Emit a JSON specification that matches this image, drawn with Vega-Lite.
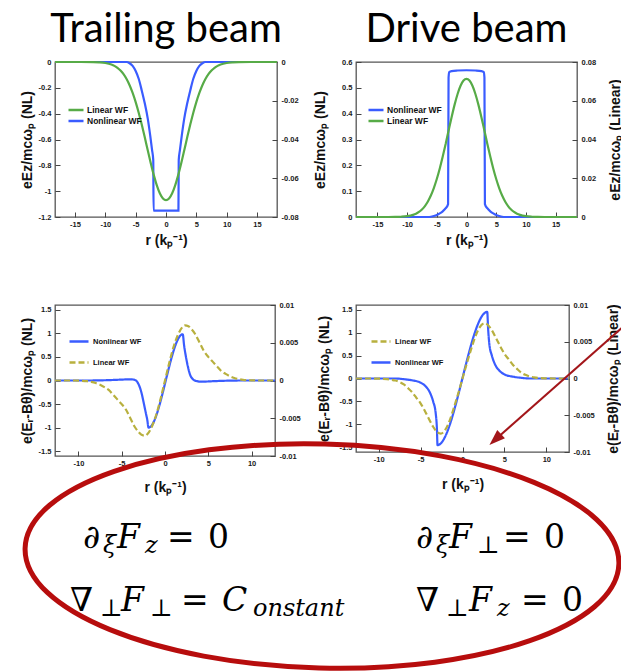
{
"$schema": "https://vega.github.io/schema/vega-lite/v6.json",
"background": "white",
"padding": {"left": 15, "top": 8, "right": 0, "bottom": 0},
"datasets": {
"tl": [
{"s":"Nonlinear WF","r":-18.3,"v":0},{"s":"Nonlinear WF","r":-8,"v":0},{"s":"Nonlinear WF","r":-6.5,"v":0},{"s":"Nonlinear WF","r":-6,"v":-0.01},{"s":"Nonlinear WF","r":-5.5,"v":-0.03},{"s":"Nonlinear WF","r":-5,"v":-0.07},{"s":"Nonlinear WF","r":-4.5,"v":-0.13},{"s":"Nonlinear WF","r":-4,"v":-0.22},{"s":"Nonlinear WF","r":-3.5,"v":-0.32},{"s":"Nonlinear WF","r":-3,"v":-0.44},{"s":"Nonlinear WF","r":-2.6,"v":-0.57},{"s":"Nonlinear WF","r":-2.3,"v":-0.68},{"s":"Nonlinear WF","r":-2.1,"v":-0.76},{"s":"Nonlinear WF","r":-2.05,"v":-1.15},{"s":"Nonlinear WF","r":2.05,"v":-1.15},{"s":"Nonlinear WF","r":2.1,"v":-0.76},{"s":"Nonlinear WF","r":2.3,"v":-0.68},{"s":"Nonlinear WF","r":2.6,"v":-0.57},{"s":"Nonlinear WF","r":3,"v":-0.44},{"s":"Nonlinear WF","r":3.5,"v":-0.32},{"s":"Nonlinear WF","r":4,"v":-0.22},{"s":"Nonlinear WF","r":4.5,"v":-0.13},{"s":"Nonlinear WF","r":5,"v":-0.07},{"s":"Nonlinear WF","r":5.5,"v":-0.03},{"s":"Nonlinear WF","r":6,"v":-0.01},{"s":"Nonlinear WF","r":6.5,"v":0},{"s":"Nonlinear WF","r":8,"v":0},{"s":"Nonlinear WF","r":18.3,"v":0},
{"s":"Linear WF","r":-18.3,"v":0},{"s":"Linear WF","r":-14,"v":0},{"s":"Linear WF","r":-12,"v":-0.00006},{"s":"Linear WF","r":-11,"v":-0.00018},{"s":"Linear WF","r":-10,"v":-0.0005},{"s":"Linear WF","r":-9,"v":-0.00129},{"s":"Linear WF","r":-8.5,"v":-0.00199},{"s":"Linear WF","r":-8,"v":-0.003},{"s":"Linear WF","r":-7.5,"v":-0.0044},{"s":"Linear WF","r":-7,"v":-0.0063},{"s":"Linear WF","r":-6.5,"v":-0.00881},{"s":"Linear WF","r":-6,"v":-0.012},{"s":"Linear WF","r":-5.5,"v":-0.01595},{"s":"Linear WF","r":-5,"v":-0.02068},{"s":"Linear WF","r":-4.5,"v":-0.02616},{"s":"Linear WF","r":-4,"v":-0.03229},{"s":"Linear WF","r":-3.5,"v":-0.03888},{"s":"Linear WF","r":-3,"v":-0.04567},{"s":"Linear WF","r":-2.5,"v":-0.05233},{"s":"Linear WF","r":-2,"v":-0.0585},{"s":"Linear WF","r":-1.5,"v":-0.06378},{"s":"Linear WF","r":-1,"v":-0.06786},{"s":"Linear WF","r":-0.5,"v":-0.07042},{"s":"Linear WF","r":0,"v":-0.0713},{"s":"Linear WF","r":0.5,"v":-0.07042},{"s":"Linear WF","r":1,"v":-0.06786},{"s":"Linear WF","r":1.5,"v":-0.06378},{"s":"Linear WF","r":2,"v":-0.0585},{"s":"Linear WF","r":2.5,"v":-0.05233},{"s":"Linear WF","r":3,"v":-0.04567},{"s":"Linear WF","r":3.5,"v":-0.03888},{"s":"Linear WF","r":4,"v":-0.03229},{"s":"Linear WF","r":4.5,"v":-0.02616},{"s":"Linear WF","r":5,"v":-0.02068},{"s":"Linear WF","r":5.5,"v":-0.01595},{"s":"Linear WF","r":6,"v":-0.012},{"s":"Linear WF","r":6.5,"v":-0.00881},{"s":"Linear WF","r":7,"v":-0.0063},{"s":"Linear WF","r":7.5,"v":-0.0044},{"s":"Linear WF","r":8,"v":-0.003},{"s":"Linear WF","r":8.5,"v":-0.00199},{"s":"Linear WF","r":9,"v":-0.00129},{"s":"Linear WF","r":10,"v":-0.0005},{"s":"Linear WF","r":11,"v":-0.00018},{"s":"Linear WF","r":12,"v":-0.00006},{"s":"Linear WF","r":14,"v":0},{"s":"Linear WF","r":18.3,"v":0}
],
"tr": [
{"s":"Nonlinear WF","r":-18.6,"v":0},{"s":"Nonlinear WF","r":-8,"v":0},{"s":"Nonlinear WF","r":-6.5,"v":0},{"s":"Nonlinear WF","r":-6,"v":0.001},{"s":"Nonlinear WF","r":-5.5,"v":0.004},{"s":"Nonlinear WF","r":-5,"v":0.008},{"s":"Nonlinear WF","r":-4.5,"v":0.014},{"s":"Nonlinear WF","r":-4,"v":0.022},{"s":"Nonlinear WF","r":-3.5,"v":0.034},{"s":"Nonlinear WF","r":-3.1,"v":0.05},{"s":"Nonlinear WF","r":-3.02,"v":0.54},{"s":"Nonlinear WF","r":-2.9,"v":0.561},{"s":"Nonlinear WF","r":-2.5,"v":0.565},{"s":"Nonlinear WF","r":-1.5,"v":0.567},{"s":"Nonlinear WF","r":0,"v":0.568},{"s":"Nonlinear WF","r":1.5,"v":0.567},{"s":"Nonlinear WF","r":2.5,"v":0.565},{"s":"Nonlinear WF","r":2.9,"v":0.561},{"s":"Nonlinear WF","r":3.02,"v":0.54},{"s":"Nonlinear WF","r":3.1,"v":0.05},{"s":"Nonlinear WF","r":3.5,"v":0.034},{"s":"Nonlinear WF","r":4,"v":0.022},{"s":"Nonlinear WF","r":4.5,"v":0.014},{"s":"Nonlinear WF","r":5,"v":0.008},{"s":"Nonlinear WF","r":5.5,"v":0.004},{"s":"Nonlinear WF","r":6,"v":0.001},{"s":"Nonlinear WF","r":6.5,"v":0},{"s":"Nonlinear WF","r":8,"v":0},{"s":"Nonlinear WF","r":18.6,"v":0},
{"s":"Linear WF","r":-18.6,"v":0},{"s":"Linear WF","r":-14,"v":0},{"s":"Linear WF","r":-12,"v":0.00004},{"s":"Linear WF","r":-11,"v":0.00014},{"s":"Linear WF","r":-10,"v":0.00041},{"s":"Linear WF","r":-9,"v":0.00108},{"s":"Linear WF","r":-8.5,"v":0.0017},{"s":"Linear WF","r":-8,"v":0.00261},{"s":"Linear WF","r":-7.5,"v":0.00389},{"s":"Linear WF","r":-7,"v":0.00566},{"s":"Linear WF","r":-6.5,"v":0.00803},{"s":"Linear WF","r":-6,"v":0.01109},{"s":"Linear WF","r":-5.5,"v":0.01493},{"s":"Linear WF","r":-5,"v":0.01959},{"s":"Linear WF","r":-4.5,"v":0.02504},{"s":"Linear WF","r":-4,"v":0.03119},{"s":"Linear WF","r":-3.5,"v":0.03786},{"s":"Linear WF","r":-3,"v":0.04479},{"s":"Linear WF","r":-2.5,"v":0.05163},{"s":"Linear WF","r":-2,"v":0.05801},{"s":"Linear WF","r":-1.5,"v":0.0635},{"s":"Linear WF","r":-1,"v":0.06773},{"s":"Linear WF","r":-0.5,"v":0.07041},{"s":"Linear WF","r":0,"v":0.07133},{"s":"Linear WF","r":0.5,"v":0.07041},{"s":"Linear WF","r":1,"v":0.06773},{"s":"Linear WF","r":1.5,"v":0.0635},{"s":"Linear WF","r":2,"v":0.05801},{"s":"Linear WF","r":2.5,"v":0.05163},{"s":"Linear WF","r":3,"v":0.04479},{"s":"Linear WF","r":3.5,"v":0.03786},{"s":"Linear WF","r":4,"v":0.03119},{"s":"Linear WF","r":4.5,"v":0.02504},{"s":"Linear WF","r":5,"v":0.01959},{"s":"Linear WF","r":5.5,"v":0.01493},{"s":"Linear WF","r":6,"v":0.01109},{"s":"Linear WF","r":6.5,"v":0.00803},{"s":"Linear WF","r":7,"v":0.00566},{"s":"Linear WF","r":7.5,"v":0.00389},{"s":"Linear WF","r":8,"v":0.00261},{"s":"Linear WF","r":8.5,"v":0.0017},{"s":"Linear WF","r":9,"v":0.00108},{"s":"Linear WF","r":10,"v":0.00041},{"s":"Linear WF","r":11,"v":0.00014},{"s":"Linear WF","r":12,"v":0.00004},{"s":"Linear WF","r":14,"v":0},{"s":"Linear WF","r":18.6,"v":0}
],
"bl": [
{"s":"Nonlinear WF","r":-12.7,"v":0},{"s":"Nonlinear WF","r":-9,"v":0},{"s":"Nonlinear WF","r":-7,"v":0.005},{"s":"Nonlinear WF","r":-5.5,"v":0.015},{"s":"Nonlinear WF","r":-4.5,"v":0.022},{"s":"Nonlinear WF","r":-3.8,"v":0.022},{"s":"Nonlinear WF","r":-3.4,"v":0.005},{"s":"Nonlinear WF","r":-3,"v":-0.1},{"s":"Nonlinear WF","r":-2.7,"v":-0.27},{"s":"Nonlinear WF","r":-2.45,"v":-0.48},{"s":"Nonlinear WF","r":-2.2,"v":-0.7},{"s":"Nonlinear WF","r":-2.05,"v":-0.83},{"s":"Nonlinear WF","r":-1.9,"v":-1},{"s":"Nonlinear WF","r":2.05,"v":0.98},{"s":"Nonlinear WF","r":2.2,"v":0.75},{"s":"Nonlinear WF","r":2.4,"v":0.52},{"s":"Nonlinear WF","r":2.6,"v":0.33},{"s":"Nonlinear WF","r":2.9,"v":0.12},{"s":"Nonlinear WF","r":3.2,"v":0.03},{"s":"Nonlinear WF","r":3.6,"v":-0.01},{"s":"Nonlinear WF","r":4.2,"v":-0.025},{"s":"Nonlinear WF","r":5.5,"v":-0.015},{"s":"Nonlinear WF","r":7,"v":-0.005},{"s":"Nonlinear WF","r":9,"v":0},{"s":"Nonlinear WF","r":12.7,"v":0},
{"s":"Linear WF","r":-12.7,"v":0},{"s":"Linear WF","r":-11,"v":0},{"s":"Linear WF","r":-10,"v":-0.00002},{"s":"Linear WF","r":-9,"v":-0.00009},{"s":"Linear WF","r":-8.5,"v":-0.00019},{"s":"Linear WF","r":-8,"v":-0.00034},{"s":"Linear WF","r":-7.5,"v":-0.00056},{"s":"Linear WF","r":-7,"v":-0.00088},{"s":"Linear WF","r":-6.5,"v":-0.00125},{"s":"Linear WF","r":-6,"v":-0.00188},{"s":"Linear WF","r":-5.5,"v":-0.0025},{"s":"Linear WF","r":-5,"v":-0.00313},{"s":"Linear WF","r":-4.5,"v":-0.00388},{"s":"Linear WF","r":-4,"v":-0.005},{"s":"Linear WF","r":-3.5,"v":-0.00613},{"s":"Linear WF","r":-3,"v":-0.00688},{"s":"Linear WF","r":-2.7,"v":-0.00719},{"s":"Linear WF","r":-2.3,"v":-0.00731},{"s":"Linear WF","r":-2,"v":-0.00706},{"s":"Linear WF","r":-1.5,"v":-0.00606},{"s":"Linear WF","r":-1,"v":-0.0045},{"s":"Linear WF","r":-0.5,"v":-0.00238},{"s":"Linear WF","r":0,"v":0},{"s":"Linear WF","r":0.5,"v":0.00238},{"s":"Linear WF","r":1,"v":0.0045},{"s":"Linear WF","r":1.5,"v":0.00606},{"s":"Linear WF","r":2,"v":0.00706},{"s":"Linear WF","r":2.3,"v":0.00731},{"s":"Linear WF","r":2.7,"v":0.00719},{"s":"Linear WF","r":3,"v":0.00688},{"s":"Linear WF","r":3.5,"v":0.00613},{"s":"Linear WF","r":4,"v":0.005},{"s":"Linear WF","r":4.5,"v":0.00388},{"s":"Linear WF","r":5,"v":0.00313},{"s":"Linear WF","r":5.5,"v":0.0025},{"s":"Linear WF","r":6,"v":0.00188},{"s":"Linear WF","r":6.5,"v":0.00125},{"s":"Linear WF","r":7,"v":0.00088},{"s":"Linear WF","r":7.5,"v":0.00056},{"s":"Linear WF","r":8,"v":0.00034},{"s":"Linear WF","r":8.5,"v":0.00019},{"s":"Linear WF","r":9,"v":0.00009},{"s":"Linear WF","r":10,"v":0.00002},{"s":"Linear WF","r":11,"v":0},{"s":"Linear WF","r":12.7,"v":0}
],
"br": [
{"s":"Nonlinear WF","r":-12.7,"v":0},{"s":"Nonlinear WF","r":-8,"v":0},{"s":"Nonlinear WF","r":-7,"v":-0.015},{"s":"Nonlinear WF","r":-6,"v":-0.04},{"s":"Nonlinear WF","r":-5,"v":-0.09},{"s":"Nonlinear WF","r":-4.4,"v":-0.17},{"s":"Nonlinear WF","r":-3.9,"v":-0.3},{"s":"Nonlinear WF","r":-3.5,"v":-0.5},{"s":"Nonlinear WF","r":-3.2,"v":-0.75},{"s":"Nonlinear WF","r":-3.05,"v":-1.1},{"s":"Nonlinear WF","r":-2.98,"v":-1.45},{"s":"Nonlinear WF","r":2.95,"v":1.45},{"s":"Nonlinear WF","r":3.05,"v":1.1},{"s":"Nonlinear WF","r":3.2,"v":0.75},{"s":"Nonlinear WF","r":3.5,"v":0.5},{"s":"Nonlinear WF","r":3.9,"v":0.3},{"s":"Nonlinear WF","r":4.4,"v":0.17},{"s":"Nonlinear WF","r":5,"v":0.09},{"s":"Nonlinear WF","r":6,"v":0.04},{"s":"Nonlinear WF","r":7,"v":0.015},{"s":"Nonlinear WF","r":8,"v":0},{"s":"Nonlinear WF","r":12.7,"v":0},
{"s":"Linear WF","r":-12.7,"v":0},{"s":"Linear WF","r":-11,"v":0},{"s":"Linear WF","r":-10,"v":-0.00002},{"s":"Linear WF","r":-9,"v":-0.000075},{"s":"Linear WF","r":-8.5,"v":-0.00016},{"s":"Linear WF","r":-8,"v":-0.00028},{"s":"Linear WF","r":-7.5,"v":-0.0005},{"s":"Linear WF","r":-7,"v":-0.00081},{"s":"Linear WF","r":-6.5,"v":-0.00131},{"s":"Linear WF","r":-6,"v":-0.001875},{"s":"Linear WF","r":-5.5,"v":-0.002625},{"s":"Linear WF","r":-5,"v":-0.003375},{"s":"Linear WF","r":-4.5,"v":-0.004375},{"s":"Linear WF","r":-4,"v":-0.0055},{"s":"Linear WF","r":-3.5,"v":-0.00656},{"s":"Linear WF","r":-3,"v":-0.00731},{"s":"Linear WF","r":-2.6,"v":-0.0075},{"s":"Linear WF","r":-2,"v":-0.006875},{"s":"Linear WF","r":-1.5,"v":-0.005625},{"s":"Linear WF","r":-1,"v":-0.003875},{"s":"Linear WF","r":-0.5,"v":-0.002},{"s":"Linear WF","r":0,"v":0},{"s":"Linear WF","r":0.5,"v":0.002},{"s":"Linear WF","r":1,"v":0.003875},{"s":"Linear WF","r":1.5,"v":0.005625},{"s":"Linear WF","r":2,"v":0.006875},{"s":"Linear WF","r":2.6,"v":0.0075},{"s":"Linear WF","r":3,"v":0.00731},{"s":"Linear WF","r":3.5,"v":0.00656},{"s":"Linear WF","r":4,"v":0.0055},{"s":"Linear WF","r":4.5,"v":0.004375},{"s":"Linear WF","r":5,"v":0.003375},{"s":"Linear WF","r":5.5,"v":0.002625},{"s":"Linear WF","r":6,"v":0.001875},{"s":"Linear WF","r":6.5,"v":0.00131},{"s":"Linear WF","r":7,"v":0.00081},{"s":"Linear WF","r":7.5,"v":0.0005},{"s":"Linear WF","r":8,"v":0.00028},{"s":"Linear WF","r":8.5,"v":0.00016},{"s":"Linear WF","r":9,"v":0.000075},{"s":"Linear WF","r":10,"v":0.00002},{"s":"Linear WF","r":11,"v":0},{"s":"Linear WF","r":12.7,"v":0}
],
"arrow": [{"r":19.6,"v":0.0075,"r2":4.03,"v2":-0.00819}],
"ell": [{"x":322,"y":556}],
"eq": [
{"t":"∂","k":"m","x":83,"y":548},{"t":"ξ","k":"si","x":103,"y":553},{"t":"F","k":"mi","x":117,"y":548},{"t":"z","k":"si","x":145,"y":553},{"t":"=","k":"m","x":167,"y":548},{"t":"0","k":"m","x":208,"y":548},
{"t":"∇","k":"m","x":70,"y":611},{"t":"⊥","k":"s","x":100,"y":616},{"t":"F","k":"mi","x":121,"y":611},{"t":"⊥","k":"s","x":150,"y":616},{"t":"=","k":"m","x":181,"y":611},{"t":"C","k":"mi","x":222,"y":611},{"t":"onstant","k":"si","x":253,"y":616},
{"t":"∂","k":"m","x":416,"y":548},{"t":"ξ","k":"si","x":436,"y":553},{"t":"F","k":"mi","x":449,"y":548},{"t":"⊥","k":"s","x":477,"y":553},{"t":"=","k":"m","x":503,"y":548},{"t":"0","k":"m","x":544,"y":548},
{"t":"∇","k":"m","x":416,"y":611},{"t":"⊥","k":"s","x":446,"y":616},{"t":"F","k":"mi","x":469,"y":611},{"t":"z","k":"si","x":497,"y":616},{"t":"=","k":"m","x":521,"y":611},{"t":"0","k":"m","x":562,"y":611}
]
},
"config": {
"view": {"stroke": "#555", "strokeWidth": 1.3},
"axis": {"domain": false, "grid": false, "ticks": true, "tickSize": -5, "tickColor": "#444", "tickWidth": 1, "labelFont": "Liberation Sans", "labelFontWeight": "bold", "labelFontSize": 7.5, "labelColor": "#1a1a1a", "labelFlush": false, "labelOverlap": false, "labelBound": false, "titleFont": "Liberation Sans", "titleFontWeight": "bold", "titleFontSize": 14, "titleColor": "#111", "labelExpr": "replace(format(datum.value, '~g'), '−', '-')"},
"axisBottom": {"labelPadding": 8, "titleBaseline": "middle", "titleY": 23, "labelOverlap": false},
"axisX": {"labelOverlap": false},
"axisLeft": {"labelPadding": 9, "titleAngle": 270, "titleBaseline": "middle"},
"axisRight": {"labelPadding": 9, "titleAngle": 270, "titleBaseline": "middle"},
"legend": {"symbolType": "stroke", "symbolStrokeWidth": 2.5, "labelFont": "Liberation Sans", "labelFontWeight": "bold", "labelColor": "#111", "padding": 0, "labelOffset": 2},
"title": {"font": "Lato", "fontSize": 40, "fontWeight": "normal", "color": "#000", "anchor": "middle", "baseline": "alphabetic", "offset": 8, "frame": "group"}
},
"bounds": "flush",
"columns": 2,
"spacing": {"row": 88, "column": 79},
"resolve": {"scale": {"color": "independent", "strokeDash": "independent"}},
"concat": [
{
"width": 222, "height": 155,
"title": {"text": "Trailing beam"},
"data": {"name": "tl"},
"layer": [
{"transform": [{"filter": "datum.s === 'Nonlinear WF'"}],
 "mark": {"type": "line", "interpolate": "monotone", "strokeWidth": 2.2},
 "encoding": {
  "x": {"field": "r", "type": "quantitative", "scale": {"domain": [-18.3, 18.3], "nice": false, "zero": false}, "axis": {"values": [-15,-10,-5,0,5,10,15], "labelOverlap": false, "title": "r (kₚ⁻¹)"}},
  "y": {"field": "v", "type": "quantitative", "scale": {"domain": [-1.2, 0], "nice": false, "zero": false}, "axis": {"values": [0,-0.2,-0.4,-0.6,-0.8,-1,-1.2], "labelOverlap": false, "title": "eEz/mcωₚ (NL)", "titleX": -28}},
  "color": {"field": "s", "type": "nominal", "scale": {"domain": ["Linear WF","Nonlinear WF"], "range": ["#57ab47","#3a5cff"]}, "legend": {"title": null, "orient": "none", "legendX": 12, "legendY": 42.5, "symbolSize": 225, "clipHeight": 11, "labelFontSize": 8.5, "rowPadding": 0}}
 }},
{"transform": [{"filter": "datum.s === 'Linear WF'"}],
 "mark": {"type": "line", "interpolate": "monotone", "strokeWidth": 2.2},
 "encoding": {
  "x": {"field": "r", "type": "quantitative", "scale": {"domain": [-18.3, 18.3], "nice": false, "zero": false}, "axis": {"values": [-15,-10,-5,0,5,10,15], "labelOverlap": false, "title": "r (kₚ⁻¹)"}},
  "y": {"field": "v", "type": "quantitative", "scale": {"domain": [-0.08, 0], "nice": false, "zero": false}, "axis": {"orient": "right", "values": [0,-0.02,-0.04,-0.06,-0.08], "labelOverlap": false, "title": null}},
  "color": {"field": "s", "type": "nominal"}
 }}
],
"resolve": {"scale": {"y": "independent"}}
},
{
"width": 221, "height": 155,
"title": {"text": "Drive beam"},
"data": {"name": "tr"},
"layer": [
{"transform": [{"filter": "datum.s === 'Nonlinear WF'"}],
 "mark": {"type": "line", "interpolate": "monotone", "strokeWidth": 2.2},
 "encoding": {
  "x": {"field": "r", "type": "quantitative", "scale": {"domain": [-18.6, 18.6], "nice": false, "zero": false}, "axis": {"values": [-15,-10,-5,0,5,10,15], "labelOverlap": false, "title": "r (kₚ⁻¹)"}},
  "y": {"field": "v", "type": "quantitative", "scale": {"domain": [0, 0.6], "nice": false, "zero": false}, "axis": {"values": [0,0.1,0.2,0.3,0.4,0.5,0.6], "labelOverlap": false, "title": "eEz/mcωₚ (NL)", "titleX": -36}},
  "color": {"field": "s", "type": "nominal", "scale": {"domain": ["Nonlinear WF","Linear WF"], "range": ["#3a5cff","#57ab47"]}, "legend": {"title": null, "orient": "none", "legendX": 11, "legendY": 42.5, "symbolSize": 225, "clipHeight": 11, "labelFontSize": 8.5, "rowPadding": 0}}
 }},
{"transform": [{"filter": "datum.s === 'Linear WF'"}],
 "mark": {"type": "line", "interpolate": "monotone", "strokeWidth": 2.2},
 "encoding": {
  "x": {"field": "r", "type": "quantitative", "scale": {"domain": [-18.6, 18.6], "nice": false, "zero": false}, "axis": {"values": [-15,-10,-5,0,5,10,15], "labelOverlap": false, "title": "r (kₚ⁻¹)"}},
  "y": {"field": "v", "type": "quantitative", "scale": {"domain": [0, 0.08], "nice": false, "zero": false}, "axis": {"orient": "right", "values": [0,0.02,0.04,0.06,0.08], "labelOverlap": false, "title": "eEz/mcωₚ (Linear)", "titleX": 38}},
  "color": {"field": "s", "type": "nominal"}
 }}
],
"resolve": {"scale": {"y": "independent"}}
},
{
"width": 220, "height": 151,
"data": {"name": "bl"},
"layer": [
{"transform": [{"filter": "datum.s === 'Nonlinear WF'"}],
 "mark": {"type": "line", "interpolate": "monotone", "strokeWidth": 2.2},
 "encoding": {
  "x": {"field": "r", "type": "quantitative", "scale": {"domain": [-12.7, 12.7], "nice": false, "zero": false}, "axis": {"values": [-10,-5,0,5,10], "labelOverlap": false, "title": "r (kₚ⁻¹)", "titleY": 31}},
  "y": {"field": "v", "type": "quantitative", "scale": {"domain": [-1.6, 1.6], "nice": false, "zero": false}, "axis": {"values": [-1.5,-1,-0.5,0,0.5,1,1.5], "labelOverlap": false, "title": "e(Eᵣ-Bθ)/mcωₚ (NL)", "titleX": -28}},
  "color": {"field": "s", "type": "nominal", "scale": {"domain": ["Nonlinear WF","Linear WF"], "range": ["#3a5cff","#b8b03e"]}, "legend": {"title": null, "orient": "none", "legendX": 13, "legendY": 28, "symbolSize": 361, "clipHeight": 17, "labelFontSize": 7.5, "rowPadding": 4, "labelOffset": 3}},
  "strokeDash": {"field": "s", "type": "nominal", "scale": {"domain": ["Nonlinear WF","Linear WF"], "range": [[1,0],[6,3]]}, "legend": {"title": null, "orient": "none", "legendX": 13, "legendY": 28, "symbolSize": 361, "clipHeight": 17, "labelFontSize": 7.5, "rowPadding": 4, "labelOffset": 3}}
 }},
{"transform": [{"filter": "datum.s === 'Linear WF'"}],
 "mark": {"type": "line", "interpolate": "monotone", "strokeWidth": 2.2},
 "encoding": {
  "x": {"field": "r", "type": "quantitative", "scale": {"domain": [-12.7, 12.7], "nice": false, "zero": false}},
  "y": {"field": "v", "type": "quantitative", "scale": {"domain": [-0.01, 0.01], "nice": false, "zero": false}, "axis": {"orient": "right", "values": [-0.01,-0.005,0,0.005,0.01], "labelOverlap": false, "title": null}},
  "color": {"field": "s", "type": "nominal"},
  "strokeDash": {"field": "s", "type": "nominal"}
 }}
],
"resolve": {"scale": {"y": "independent"}}
},
{
"width": 213, "height": 147,
"layer": [
{"data": {"name": "br"},
 "transform": [{"filter": "datum.s === 'Nonlinear WF'"}],
 "mark": {"type": "line", "interpolate": "monotone", "strokeWidth": 2.2},
 "encoding": {
  "x": {"field": "r", "type": "quantitative", "scale": {"domain": [-12.7, 12.7], "nice": false, "zero": false}, "axis": {"values": [-10,-5,0,5,10], "labelOverlap": false, "title": "r (kₚ⁻¹)", "titleY": 32}},
  "y": {"field": "v", "type": "quantitative", "scale": {"domain": [-1.6, 1.6], "nice": false, "zero": false}, "axis": {"values": [-1.5,-1,-0.5,0,0.5,1,1.5], "labelOverlap": false, "title": "e(Eᵣ-Bθ)/mcωₚ (NL)", "titleX": -32}},
  "color": {"field": "s", "type": "nominal", "scale": {"domain": ["Linear WF","Nonlinear WF"], "range": ["#b8b03e","#3a5cff"]}, "legend": {"title": null, "orient": "none", "legendX": 14, "legendY": 28, "symbolSize": 361, "clipHeight": 17, "labelFontSize": 7.5, "rowPadding": 4, "labelOffset": 3}},
  "strokeDash": {"field": "s", "type": "nominal", "scale": {"domain": ["Linear WF","Nonlinear WF"], "range": [[6,3],[1,0]]}, "legend": {"title": null, "orient": "none", "legendX": 14, "legendY": 28, "symbolSize": 361, "clipHeight": 17, "labelFontSize": 7.5, "rowPadding": 4, "labelOffset": 3}}
 }},
{"layer": [
 {"data": {"name": "br"},
  "transform": [{"filter": "datum.s === 'Linear WF'"}],
  "mark": {"type": "line", "interpolate": "monotone", "strokeWidth": 2.2},
  "encoding": {
   "x": {"field": "r", "type": "quantitative", "scale": {"domain": [-12.7, 12.7], "nice": false, "zero": false}},
   "y": {"field": "v", "type": "quantitative", "scale": {"domain": [-0.01, 0.01], "nice": false, "zero": false}, "axis": {"orient": "right", "values": [-0.01,-0.005,0,0.005,0.01], "labelOverlap": false, "title": "e(Eᵣ-Bθ)/mcωₚ (Linear)", "titleX": 44}},
   "color": {"field": "s", "type": "nominal"},
   "strokeDash": {"field": "s", "type": "nominal"}
  }},
 {"data": {"name": "arrow"},
  "mark": {"type": "rule", "color": "#a3161a", "strokeWidth": 2},
  "encoding": {
   "x": {"field": "r", "type": "quantitative", "scale": {"domain": [-12.7, 12.7], "nice": false, "zero": false}},
   "x2": {"field": "r2"},
   "y": {"field": "v", "type": "quantitative", "scale": {"domain": [-0.01, 0.01], "nice": false, "zero": false}, "axis": {"orient": "right", "values": [-0.01,-0.005,0,0.005,0.01], "labelOverlap": false, "title": "e(Eᵣ-Bθ)/mcωₚ (Linear)", "titleX": 44}},
   "y2": {"field": "v2"}
  }},
 {"data": {"name": "arrow"},
  "mark": {"type": "point", "shape": "M 0 -1 L 0.6 0.7 L -0.6 0.7 Z", "size": 353, "filled": true, "color": "#a3161a", "opacity": 1, "angle": 227},
  "encoding": {
   "x": {"field": "r2", "type": "quantitative", "scale": {"domain": [-12.7, 12.7], "nice": false, "zero": false}},
   "y": {"field": "v2", "type": "quantitative", "scale": {"domain": [-0.01, 0.01], "nice": false, "zero": false}, "axis": {"orient": "right", "values": [-0.01,-0.005,0,0.005,0.01], "labelOverlap": false, "title": "e(Eᵣ-Bθ)/mcωₚ (Linear)", "titleX": 44}}
  }}
]}
],
"resolve": {"scale": {"y": "independent"}}
},
{
"width": 222, "height": 128,
"view": {"stroke": null},
"layer": [
{"data": {"name": "ell"},
 "mark": {"type": "point", "shape": "M -1 0 A 1 0.377 0 1 1 1 0 A 1 0.377 0 1 1 -1 0 Z", "size": 352836, "filled": false, "stroke": "#b70d0d", "strokeWidth": 5, "opacity": 1, "angle": 1.5},
 "encoding": {
  "x": {"field": "x", "type": "quantitative", "scale": {"domain": [55, 277], "nice": false, "zero": false}, "axis": null},
  "y": {"field": "y", "type": "quantitative", "scale": {"domain": [544, 672], "nice": false, "zero": false, "reverse": true}, "axis": null}
 }},
{"data": {"name": "eq"},
 "transform": [{"filter": "datum.k === 'm'"}],
 "mark": {"type": "text", "font": "DejaVu Serif", "fontSize": 33, "align": "left", "baseline": "alphabetic", "color": "#000"},
 "encoding": {"x": {"field": "x", "type": "quantitative"}, "y": {"field": "y", "type": "quantitative"}, "text": {"field": "t"}}},
{"data": {"name": "eq"},
 "transform": [{"filter": "datum.k === 'mi'"}],
 "mark": {"type": "text", "font": "DejaVu Serif", "fontStyle": "italic", "fontSize": 33, "align": "left", "baseline": "alphabetic", "color": "#000"},
 "encoding": {"x": {"field": "x", "type": "quantitative"}, "y": {"field": "y", "type": "quantitative"}, "text": {"field": "t"}}},
{"data": {"name": "eq"},
 "transform": [{"filter": "datum.k === 'si'"}],
 "mark": {"type": "text", "font": "DejaVu Serif", "fontStyle": "italic", "fontSize": 24, "align": "left", "baseline": "alphabetic", "color": "#000"},
 "encoding": {"x": {"field": "x", "type": "quantitative"}, "y": {"field": "y", "type": "quantitative"}, "text": {"field": "t"}}},
{"data": {"name": "eq"},
 "transform": [{"filter": "datum.k === 's'"}],
 "mark": {"type": "text", "font": "DejaVu Serif", "fontSize": 24, "align": "left", "baseline": "alphabetic", "color": "#000"},
 "encoding": {"x": {"field": "x", "type": "quantitative"}, "y": {"field": "y", "type": "quantitative"}, "text": {"field": "t"}}}
]
}
]
}
